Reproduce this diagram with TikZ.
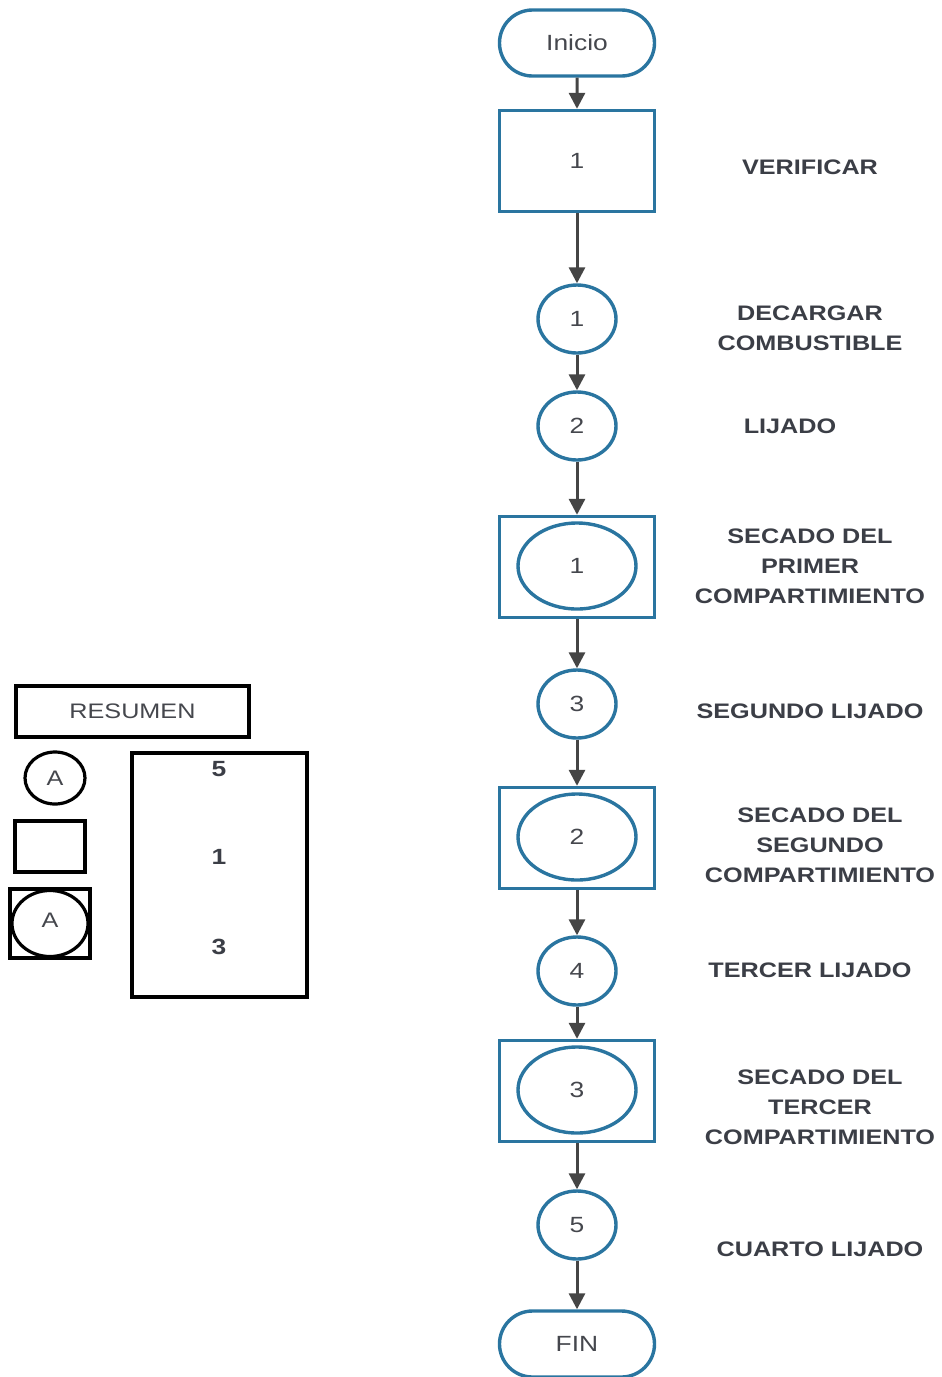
\documentclass[tikz,border=0pt]{standalone}
\usepackage{fontspec}
\setmainfont{Liberation Sans}[FakeStretch=1.2]
\usetikzlibrary{shapes.geometric,shapes.misc,arrows.meta}
\definecolor{fblue}{HTML}{2A75A0}
\definecolor{ftext}{HTML}{45474D}
\definecolor{farrow}{HTML}{454545}
\definecolor{flabel}{HTML}{3B3E46}
\begin{document}
\begin{tikzpicture}[x=1pt,y=-1pt,
  term/.style={draw=fblue, line width=3.4pt, rounded rectangle, minimum width=155pt, minimum height=66pt, inner sep=0pt, text=ftext, font=\fontsize{22}{25}\selectfont},
  opbox/.style={draw=fblue, line width=3.4pt, rectangle, minimum width=155pt, minimum height=101pt, inner sep=0pt, text=ftext, font=\fontsize{22}{25}\selectfont},
  opcirc/.style={draw=fblue, line width=3.4pt, ellipse, minimum width=78pt, minimum height=68pt, inner sep=0pt, text=ftext, font=\fontsize{22}{25}\selectfont},
  bigcirc/.style={draw=fblue, line width=3.4pt, ellipse, minimum width=118pt, minimum height=86pt, inner sep=0pt, text=ftext, font=\fontsize{22}{25}\selectfont},
  arr/.style={draw=farrow, line width=3pt, -{Triangle[length=16pt,width=16pt]}},
  lbl/.style={text=flabel, align=center, font=\bfseries\fontsize{21}{30}\selectfont},
  leg/.style={draw=black, line width=3.2pt, inner sep=0pt, text=ftext, font=\fontsize{21}{25}\selectfont},
  legnum/.style={text=flabel, font=\bfseries\fontsize{22}{26}\selectfont}]
\useasboundingbox (0,0) rectangle (942,1377);

% flow
\node[term] (ini) at (577,43) {Inicio};
\node[opbox] (v1) at (577,161) {1};
\node[opcirc] (c1) at (577,319) {1};
\node[opcirc] (c2) at (577,426) {2};
\node[opbox] (b1) at (577,567) {};
\node[bigcirc] (e1) at (577,566) {1};
\node[opcirc] (c3) at (577,704) {3};
\node[opbox] (b2) at (577,838) {};
\node[bigcirc] (e2) at (577,837) {2};
\node[opcirc] (c4) at (577,971) {4};
\node[opbox] (b3) at (577,1091) {};
\node[bigcirc] (e3) at (577,1090) {3};
\node[opcirc] (c5) at (577,1225) {5};
\node[term] (fin) at (577,1344) {FIN};

\draw[arr] (ini) -- (v1);
\draw[arr] (v1) -- (c1);
\draw[arr] (c1) -- (c2);
\draw[arr] (c2) -- (b1);
\draw[arr] (b1) -- (c3);
\draw[arr] (c3) -- (b2);
\draw[arr] (b2) -- (c4);
\draw[arr] (c4) -- (b3);
\draw[arr] (b3) -- (c5);
\draw[arr] (c5) -- (fin);

% labels
\node[lbl] (l1) at (810,167) {VERIFICAR};
\node[lbl] (l2) at (810,328) {DECARGAR\\COMBUSTIBLE};
\node[lbl] (l3) at (790,426) {LIJADO};
\node[lbl] (l4) at (810,566) {SECADO DEL\\PRIMER\\COMPARTIMIENTO};
\node[lbl] (l5) at (810,711) {SEGUNDO LIJADO};
\node[lbl] (l6) at (820,845) {SECADO DEL\\SEGUNDO\\COMPARTIMIENTO};
\node[lbl] (l7) at (810,970) {TERCER LIJADO};
\node[lbl] (l8) at (820,1107) {SECADO DEL\\TERCER\\COMPARTIMIENTO};
\node[lbl] (l9) at (820,1249) {CUARTO LIJADO};

% legend
\node[leg, rectangle, minimum width=233pt, minimum height=51pt] (res) at (132.5,711.5) {RESUMEN};
\node[leg, ellipse, minimum width=60pt, minimum height=52pt] (la) at (55,778) {A};
\node[leg, rectangle, minimum width=70pt, minimum height=51pt] (lr) at (50,846.5) {};
\node[leg, rectangle, minimum width=80pt, minimum height=69pt] (lcb) at (50,923.5) {};
\node[leg, ellipse, minimum width=76pt, minimum height=66pt] (lce) at (50,923.5) {};
\node[text=ftext, font=\fontsize{21}{25}\selectfont] (lct) at (50,920) {A};
\node[leg, rectangle, minimum width=175pt, minimum height=244pt] (tot) at (219.5,875) {};
\node[legnum] (n5) at (219,769) {5};
\node[legnum] (n1) at (219,857) {1};
\node[legnum] (n3) at (219,947) {3};
\end{tikzpicture}
\end{document}
